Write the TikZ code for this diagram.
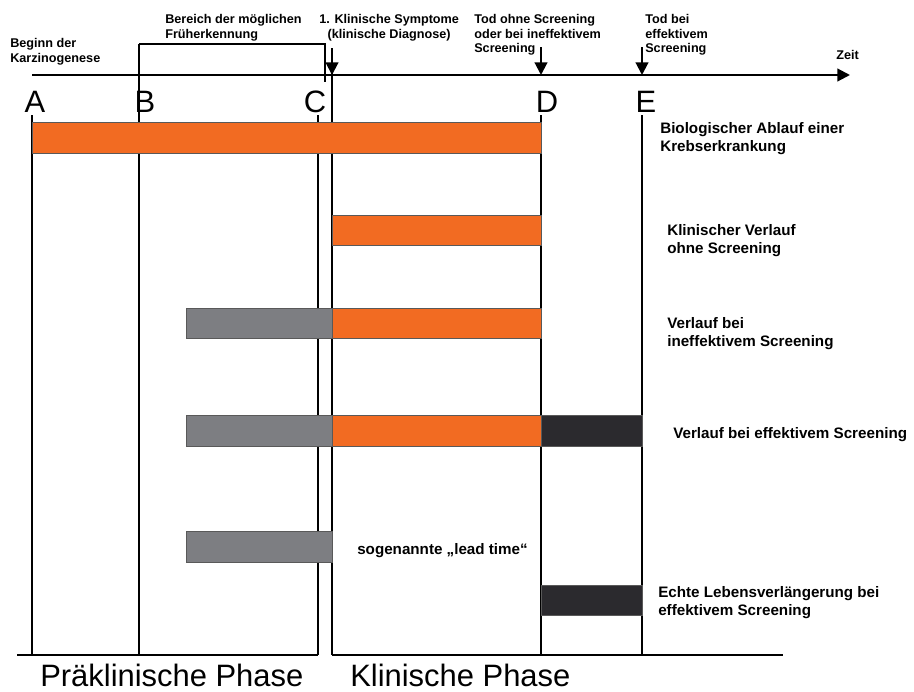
\documentclass[tikz,border=0pt]{standalone}
\usepackage{fontspec}
\setmainfont{Liberation Sans}
\usepackage{tikz}
\usetikzlibrary{arrows.meta, positioning}
\definecolor{verlauf}{HTML}{F26B22}
\definecolor{vorlauf}{HTML}{7D7E82}
\definecolor{gewinn}{HTML}{2B2A2E}
\tikzstyle{txt} = [font=\fontsize{9}{10.5}\selectfont\bfseries, align=left, inner sep=0pt, anchor=north west]
\tikzstyle{rtxt} = [txt, font=\fontsize{10.8}{13}\selectfont\bfseries]
\tikzstyle{gross} = [font=\fontsize{22}{24}\selectfont, inner sep=0pt, anchor=base]
\tikzstyle{strich} = [line width=1.5pt]
\tikzstyle{pfeil} = [line width=1.5pt, -{Triangle[width=9pt,length=9pt]}]
\tikzstyle{balken} = [draw=black!65, line width=0.5pt]

\begin{document}
\begin{tikzpicture}[x=0.025cm, y=-0.025cm]
        \useasboundingbox (0,0) rectangle (914,691);

        % Zeitachse
        \coordinate (start) at (32,75);
        \coordinate (ende) at (850,75);
        \draw[pfeil] (start) -- (ende);
        \node[txt] (zeit) at (836,50) {Zeit};

        \node[gross] (A) at (35,112) {A};
        \node[gross] (B) at (145,112) {B};
        \node[gross] (C) at (315,112) {C};
        \node[gross] (D) at (547,112) {D};
        \node[gross] (E) at (646,112) {E};

        \coordinate (a-oben) at (32,115);   \coordinate (a-unten) at (32,655);
        \coordinate (b-oben) at (139,44);   \coordinate (b-unten) at (139,655);
        \coordinate (c-oben) at (318,115);  \coordinate (c-unten) at (318,655);
        \coordinate (k-pfeil) at (332,48);  \coordinate (k-achse) at (332,75);  \coordinate (k-unten) at (332,655);
        \coordinate (d-pfeil) at (541,47);  \coordinate (d-achse) at (541,75);
        \coordinate (d-oben) at (541,115);  \coordinate (d-unten) at (541,655);
        \coordinate (e-pfeil) at (642,47);  \coordinate (e-achse) at (642,75);
        \coordinate (e-oben) at (642,115);  \coordinate (e-unten) at (642,655);
        \coordinate (klammer) at (325,82);

        \draw[strich] (a-oben) -- (a-unten);
        \draw[strich] (b-oben) -- (b-unten);
        \draw[strich] (c-oben) -- (c-unten);
        \draw[strich] (k-pfeil) -- (k-unten);
        \draw[strich] (d-oben) -- (d-unten);
        \draw[strich] (e-oben) -- (e-unten);
        \draw[strich] (b-oben) -| (klammer);
        \draw[pfeil] (k-pfeil) -- (k-achse);
        \draw[pfeil] (d-pfeil) -- (d-achse);
        \draw[pfeil] (e-pfeil) -- (e-achse);

        \draw[strich] (17,655) -- (c-unten);
        \draw[strich] (k-unten) -- (783,655);

        % Balken
        \draw[balken, fill=verlauf] (32,122) rectangle (541,153);
        \draw[balken, fill=verlauf] (332,215) rectangle (541,245);
        \draw[balken, fill=vorlauf] (186,308) rectangle (332,338);
        \draw[balken, fill=verlauf] (332,308) rectangle (541,338);
        \draw[balken, fill=vorlauf] (186,415) rectangle (332,446);
        \draw[balken, fill=verlauf] (332,415) rectangle (541,446);
        \draw[balken, fill=gewinn] (541,415) rectangle (642,446);
        \draw[balken, fill=vorlauf] (186,531) rectangle (332,562);
        \draw[balken, fill=gewinn] (541,585) rectangle (642,615);

        \node[txt] (beginn) at (10,38) {Beginn der\\Karzinogenese};
        \node[txt] (bereich) at (165,14) {Bereich der möglichen\\Früherkennung};
        \node[txt, align=center] (symptome) at (319,14) {1. Klinische Symptome\\(klinische Diagnose)};
        \node[txt] (tod-ohne) at (474,14) {Tod ohne Screening\\oder bei ineffektivem\\Screening};
        \node[txt] (tod-bei) at (645,14) {Tod bei\\effektivem\\Screening};

        \node[rtxt] (bio) at (660,122) {Biologischer Ablauf einer\\Krebserkrankung};
        \node[rtxt] (klinisch) at (667,224) {Klinischer Verlauf\\ohne Screening};
        \node[rtxt] (ineff) at (667,317) {Verlauf bei\\ineffektivem Screening};
        \node[rtxt] (eff) at (673,427) {Verlauf bei effektivem Screening};
        \node[rtxt] (lead) at (357,543) {sogenannte „lead time“};
        \node[rtxt] (echt) at (658,586) {Echte Lebensverlängerung bei\\effektivem Screening};

        \node[gross, anchor=base west] (praek) at (40,686) {Präklinische Phase};
        \node[gross, anchor=base west] (klin-phase) at (350,686) {Klinische Phase};
    \end{tikzpicture}
\end{document}
